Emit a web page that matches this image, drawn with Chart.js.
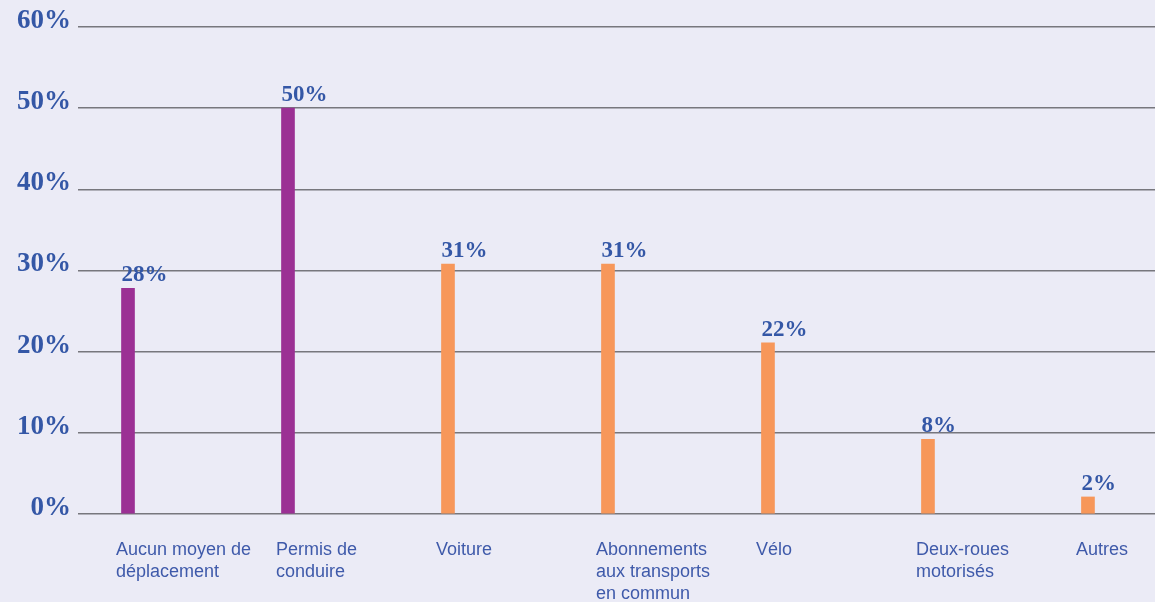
<!DOCTYPE html>
<html lang="fr">
<head>
<meta charset="UTF-8">
<title>Freins à la mobilité</title>
<script src="https://cdn.jsdelivr.net/npm/chart.js"></script>
<style>
    body { margin: 0; background: #ebebf6; overflow: hidden; }
    .box { position: relative; width: 1155px; height: 602px; }
</style>
</head>
<body>
<div class="box">
    <canvas id="graf"></canvas>
</div>

<script>
    // categories (axe x), une ligne par élément
    const categories = [
        ['Aucun moyen de', 'déplacement'],
        ['Permis de', 'conduire'],
        ['Voiture'],
        ['Abonnements', 'aux transports', 'en commun'],
        ['Vélo'],
        ['Deux-roues', 'motorisés'],
        ['Autres']
    ];
    // hauteur des barres (%)
    const values = [27.8, 50, 30.8, 30.8, 21.1, 9.2, 2.1];
    // étiquettes affichées au-dessus des barres
    const valueLabels = ['28%', '50%', '31%', '31%', '22%', '8%', '2%'];
    // graduations de l'axe y
    const yTicks = [0, 10, 20, 30, 40, 50, 60];

    const violet = '#9b3094';
    const orange = '#f7975a';
    const bleu = '#3457a6';

    // étiquettes au-dessus des barres, alignées à gauche de la barre
    const etiquettes = {
        id: 'etiquettes',
        afterDatasetsDraw(chart) {
            const ctx = chart.ctx;
            const meta = chart.getDatasetMeta(0);
            ctx.save();
            ctx.font = 'bold 23px "Liberation Serif"';
            ctx.fillStyle = bleu;
            ctx.textAlign = 'left';
            ctx.textBaseline = 'alphabetic';
            meta.data.forEach(function (bar, i) {
                ctx.fillText(valueLabels[i], bar.x - bar.width / 2, bar.y - 7);
            });
            ctx.restore();
        }
    };

    new Chart(document.getElementById('graf'), {
        type: 'bar',
        data: {
            datasets: [{
                data: values.map(function (v, i) { return { x: i, y: v }; }),
                backgroundColor: values.map(function (v, i) { return i < 2 ? violet : orange; }),
                barThickness: 13
            }]
        },
        options: {
            responsive: true,
            maintainAspectRatio: false,
            animation: false,
            layout: { padding: { top: 27, left: 0, right: 0, bottom: 0 } },
            plugins: {
                legend: { display: false },
                tooltip: { enabled: false }
            },
            scales: {
                x: {
                    type: 'linear',
                    offset: false,
                    min: -0.3125,
                    max: 6.419,
                    grid: { display: false },
                    border: { display: false },
                    afterBuildTicks: function (axis) {
                        axis.ticks = categories.map(function (c, i) { return { value: i }; });
                    },
                    afterFit: function (axis) {
                        axis.height = 88;
                        axis.paddingLeft = 0;
                        axis.paddingRight = 0;
                    },
                    ticks: {
                        autoSkip: false,
                        maxRotation: 0,
                        align: 'start',
                        labelOffset: -12,
                        padding: 17,
                        color: '#3f5aaa',
                        font: { family: '"Liberation Sans", Arial, sans-serif', size: 18, lineHeight: 1.22 },
                        callback: function (v) { return categories[v]; }
                    }
                },
                y: {
                    min: 0,
                    max: 60,
                    grid: { color: '#77777d', lineWidth: 1.5, drawTicks: false },
                    border: { display: false },
                    afterBuildTicks: function (axis) {
                        axis.ticks = yTicks.map(function (t) { return { value: t }; });
                    },
                    afterFit: function (axis) { axis.width = 78; },
                    ticks: {
                        padding: 7,
                        labelOffset: -6,
                        color: bleu,
                        font: { family: '"Liberation Serif", serif', size: 27, weight: 'bold' },
                        callback: function (v) { return v + '%'; }
                    }
                }
            }
        },
        plugins: [etiquettes]
    });
</script>
</body>
</html>
